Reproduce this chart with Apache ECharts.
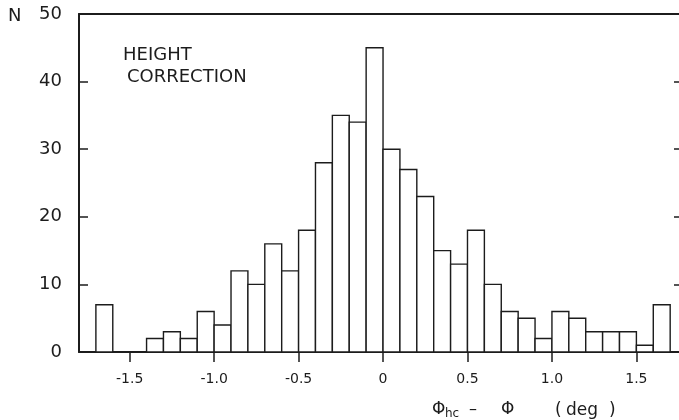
<!DOCTYPE html>
<html>
<head>
<meta charset="utf-8">
<script src="https://cdn.jsdelivr.net/npm/echarts@6/dist/echarts.min.js"></script>
<style>
  html, body { margin: 0; padding: 0; background: #fff; }
  #chart { width: 679px; height: 420px; }
</style>
</head>
<body>
<div id="chart"></div>
<script>
// Histogram of the height-corrected latitude difference, bins of 0.1 deg
const binLeft = [-1.7, -1.6, -1.5, -1.4, -1.3, -1.2, -1.1, -1.0, -0.9, -0.8, -0.7, -0.6,
                 -0.5, -0.4, -0.3, -0.2, -0.1, 0.0, 0.1, 0.2, 0.3, 0.4, 0.5, 0.6,
                 0.7, 0.8, 0.9, 1.0, 1.1, 1.2, 1.3, 1.4, 1.5, 1.6];
const counts = [7, 0, 0, 2, 3, 2, 6, 4, 12, 10, 16, 12,
                18, 28, 35, 34, 45, 30, 27, 23, 15, 13, 18, 10,
                6, 5, 2, 6, 5, 3, 3, 3, 1, 7];
const binWidth = 0.1;
const xTickValues = [-1.5, -1.0, -0.5, 0, 0.5, 1.0, 1.5];
const xTickLabels = ['-1.5', '-1.0', '-0.5', '0', '0.5', '1.0', '1.5'];
const yTickValues = [0, 10, 20, 30, 40, 50];

const ink = '#1c1c1c';
const font = 'DejaVu Sans';

const chart = echarts.init(document.getElementById('chart'), null, { renderer: 'canvas' });

const labelFor = v => {
  const i = xTickValues.findIndex(t => Math.abs(t - v) < 1e-9);
  return i >= 0 ? xTickLabels[i] : '';
};

// Plot frame runs slightly past the right edge of the page
chart.setOption({
  animation: false,
  backgroundColor: '#ffffff',
  grid: { left: 79, width: 603, top: 14, height: 338, outerBoundsMode: 'none', containLabel: false },
  xAxis: [
    {
      type: 'value', position: 'bottom', min: -1.8, max: 1.77,
      axisLine: { show: true, onZero: false, lineStyle: { color: ink, width: 2 } },
      axisTick: { show: true, inside: false, length: 10, customValues: xTickValues,
                  lineStyle: { color: ink, width: 1.5 } },
      axisLabel: { show: true, customValues: xTickValues, formatter: labelFor, margin: 20,
                   color: ink, fontFamily: font, fontSize: 14 },
      splitLine: { show: false }
    },
    {
      type: 'value', position: 'top', min: -1.8, max: 1.77,
      axisLine: { show: true, onZero: false, lineStyle: { color: ink, width: 2 } },
      axisTick: { show: false }, axisLabel: { show: false }, splitLine: { show: false }
    }
  ],
  yAxis: [
    {
      type: 'value', position: 'left', min: 0, max: 50, interval: 10,
      axisLine: { show: true, onZero: false, lineStyle: { color: ink, width: 2 } },
      axisTick: { show: true, inside: true, length: 9, lineStyle: { color: ink, width: 1.5 } },
      axisLabel: { show: true, margin: 17, color: ink, fontFamily: font, fontSize: 18,
                   customValues: yTickValues },
      splitLine: { show: false }
    },
    {
      type: 'value', position: 'right', min: 0, max: 50, interval: 10,
      axisLine: { show: true, onZero: false, lineStyle: { color: ink, width: 2 } },
      axisTick: { show: true, inside: true, length: 8, lineStyle: { color: ink, width: 1.5 } },
      axisLabel: { show: false }, splitLine: { show: false }
    }
  ],
  series: [{
    type: 'custom',
    xAxisIndex: 0, yAxisIndex: 0,
    data: binLeft.map((b, i) => [b, counts[i]]),
    renderItem: (params, api) => {
      const x0 = api.value(0);
      const n = api.value(1);
      if (!n) return null;
      const topLeft = api.coord([x0, n]);
      const bottomRight = api.coord([x0 + binWidth, 0]);
      return {
        type: 'rect',
        shape: { x: topLeft[0], y: topLeft[1],
                 width: bottomRight[0] - topLeft[0], height: bottomRight[1] - topLeft[1] },
        style: { fill: '#ffffff', stroke: ink, lineWidth: 1.4 }
      };
    }
  }],
  graphic: [
    { type: 'text', left: 8, top: 7,
      style: { text: 'N', font: '18px "DejaVu Sans"', fill: ink } },
    { type: 'text', left: 123, top: 46,
      style: { text: 'HEIGHT', font: '18px "DejaVu Sans"', fill: ink } },
    { type: 'text', left: 127, top: 68,
      style: { text: 'CORRECTION', font: '18px "DejaVu Sans"', fill: ink } },
    // axis title: Φhc − Φ  (deg)
    { type: 'text', left: 432, top: 401,
      style: { text: 'Φ', font: '17px "DejaVu Sans"', fill: ink } },
    { type: 'text', left: 445, top: 408,
      style: { text: 'hc', font: '12px "DejaVu Sans"', fill: ink } },
    { type: 'text', left: 469, top: 402,
      style: { text: '–', font: '16px "DejaVu Sans"', fill: ink } },
    { type: 'text', left: 501, top: 401,
      style: { text: 'Φ', font: '17px "DejaVu Sans"', fill: ink } },
    { type: 'text', left: 555, top: 402,
      style: { text: '(', font: '17px "DejaVu Sans"', fill: ink } },
    { type: 'text', left: 566, top: 402,
      style: { text: 'deg', font: '17px "DejaVu Sans"', fill: ink } },
    { type: 'text', left: 609, top: 402,
      style: { text: ')', font: '17px "DejaVu Sans"', fill: ink } }
  ]
});
</script>
</body>
</html>
